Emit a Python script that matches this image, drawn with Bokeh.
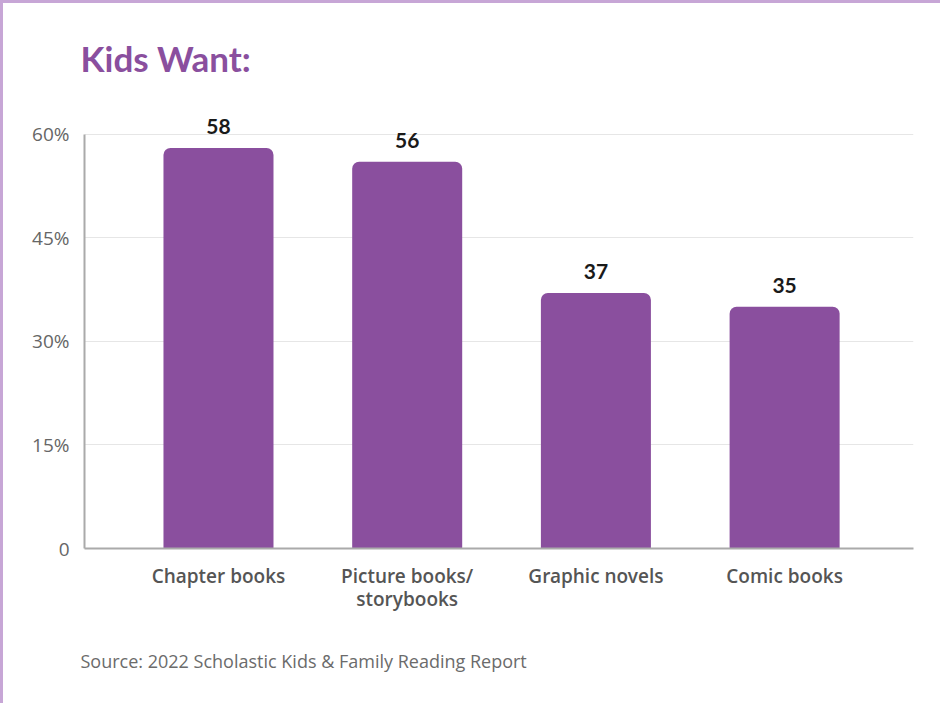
from bokeh.plotting import figure
from bokeh.models import ColumnDataSource, Range1d, FixedTicker, Title, LabelSet
from bokeh.core.properties import value
from bokeh.embed import file_html
from bokeh.resources import INLINE

title_text = "Kids Want:"
source_text = "Source: 2022 Scholastic Kids & Family Reading Report"
categories = ["Chapter books", "Picture books/\nstorybooks", "Graphic novels", "Comic books"]
values = [58, 56, 37, 35]
value_labels = ["58", "56", "37", "35"]
y_ticks = [0, 15, 30, 45, 60]
y_tick_labels = ["0", "15%", "30%", "45%", "60%"]

PURPLE = "#8a4f9e"
TITLE_FONT = "Lato"
FONT = "Open Sans"
SEMI = "'Open Sans SemiBold', 'Open Sans'"

xs = list(range(len(categories)))
src = ColumnDataSource(dict(x=xs, top=values, lab=value_labels))

p = figure(width=940, height=703, output_backend="svg", toolbar_location=None,
           x_range=Range1d(-0.71, 3.683), y_range=Range1d(0, 64.3),
           min_border_left=81, min_border_right=30, min_border_top=101, min_border_bottom=158)
p.styles = {"border-left": "3px solid #c7a6d6", "border-top": "3px solid #c7a6d6"}
p.outline_line_color = None
p.background_fill_color = "white"
p.border_fill_color = "white"

p.vbar(x="x", top="top", width=0.583, bottom=0, source=src, fill_color=PURPLE,
       line_color=None, border_radius=(7, 7, 0, 0))

labels = LabelSet(x="x", y="top", text="lab", source=src, text_align="center",
                  text_baseline="bottom", y_offset=14, text_font=value(TITLE_FONT),
                  text_font_style="bold", text_font_size="21px", text_color="#1a1a1a")
p.add_layout(labels)

p.title.text = title_text
p.title.text_font = TITLE_FONT
p.title.text_font_style = "bold"
p.title.text_font_size = "35px"
p.title.text_color = PURPLE
p.title.align = "left"
p.title.offset = -4
p.title.standoff = 52

src_title = Title(text=source_text, align="left",
                  text_font=FONT, text_font_style="normal", text_font_size="18px",
                  text_color="#6b6b6b", offset=-4, standoff=64)
p.add_layout(src_title, "below")

# axes
p.yaxis.ticker = FixedTicker(ticks=y_ticks)
p.yaxis.major_label_overrides = {t: l for t, l in zip(y_ticks, y_tick_labels)}
p.yaxis.bounds = (0, 60)
p.yaxis.axis_line_color = "#aaaaaa"
p.yaxis.axis_line_width = 2
p.yaxis.major_tick_line_color = None
p.yaxis.minor_tick_line_color = None
p.yaxis.major_label_text_font = FONT
p.yaxis.major_label_text_font_size = "19px"
p.yaxis.major_label_text_color = "#666666"
p.yaxis.major_label_standoff = 9

p.xaxis.ticker = FixedTicker(ticks=xs)
p.xaxis.major_label_overrides = {i: c for i, c in zip(xs, categories)}
p.xaxis.axis_line_color = "#aaaaaa"
p.xaxis.axis_line_width = 2
p.xaxis.major_tick_line_color = None
p.xaxis.minor_tick_line_color = None
p.xaxis.major_label_text_font = SEMI
p.xaxis.major_label_text_font_size = "19px"
p.xaxis.major_label_text_color = "#555555"
p.xaxis.major_label_text_line_height = 0.9
p.xaxis.major_label_standoff = 8

p.xgrid.grid_line_color = None
p.ygrid.ticker = FixedTicker(ticks=y_ticks[1:])
p.ygrid.grid_line_color = "#e6e6e6"
p.ygrid.grid_line_width = 1

open("out.html", "w").write(file_html(p, INLINE))
